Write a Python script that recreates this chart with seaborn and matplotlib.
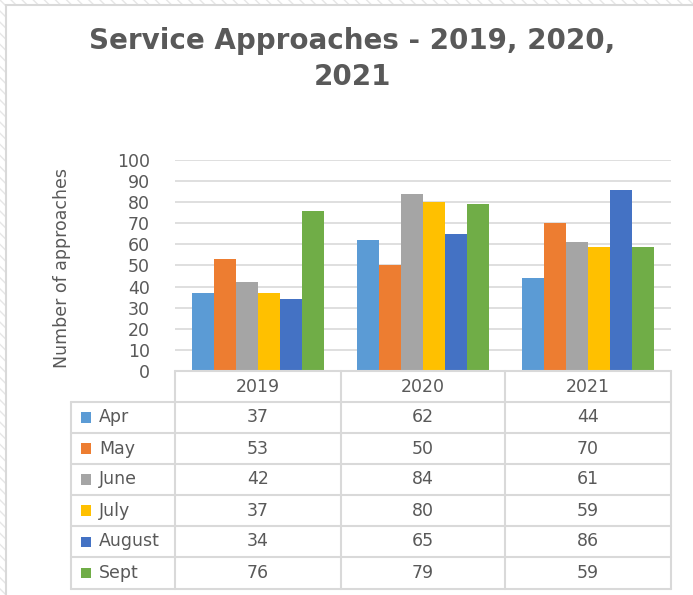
import pandas as pd
import matplotlib
matplotlib.use("Agg")
import matplotlib.pyplot as plt
from matplotlib.patches import Rectangle
from matplotlib.lines import Line2D
import seaborn as sns

# =========================
# Data
# =========================
years = ["2019", "2020", "2021"]
months = ["Apr", "May", "June", "July", "August", "Sept"]
apr = [37, 62, 44]
may = [53, 50, 70]
june = [42, 84, 61]
july = [37, 80, 59]
august = [34, 65, 86]
sept = [76, 79, 59]
y_ticks = list(range(0, 101, 10))

colors = ["#5B9BD5", "#ED7D31", "#A5A5A5", "#FFC000", "#4472C4", "#70AD47"]
series = [apr, may, june, july, august, sept]

rows = []
for m, vals in zip(months, series):
    for y, v in zip(years, vals):
        rows.append({"year": y, "month": m, "value": v})
df = pd.DataFrame(rows)

# =========================
# Figure
# =========================
W, H = 693, 595
sns.set_style("white")
plt.rcParams["font.family"] = ["DejaVu Sans"]
txt = "#595959"
grid = "#D9D9D9"
fs = 12.5

fig = plt.figure(figsize=(W / 100, H / 100), dpi=100)

def fx(x):
    return x / W

def fy(y):
    return 1 - y / H

# hatched screenshot background + chart border
fig.patches.append(Rectangle((0, 0), 1, 1, transform=fig.transFigure,
                             facecolor="white", edgecolor="#E6E6E6", hatch="\\\\\\", lw=0, zorder=-3))
fig.patches.append(Rectangle((fx(6), fy(700)), 1, fy(5) - fy(700), transform=fig.transFigure,
                             facecolor="white", edgecolor=grid, lw=1.5, zorder=-2))

ax = fig.add_axes([fx(175), fy(371), fx(671) - fx(175), fy(160) - fy(371)])
sns.barplot(data=df, x="year", y="value", hue="month", hue_order=months,
            palette=colors, saturation=1, width=0.8, linewidth=0, ax=ax, legend=False)
ax.set_ylim(0, 100)
ax.set_xlim(-0.5, 2.5)
ax.set_yticks(y_ticks)
ax.set_xticks([])
ax.set_xlabel("")
ax.set_ylabel("")
ax.tick_params(axis="y", length=0, pad=18, labelsize=fs, labelcolor=txt)
for s in ax.spines.values():
    s.set_visible(False)
for t in y_ticks[1:]:
    ax.axhline(t, color=grid, lw=1.2, zorder=0)
ax.set_axisbelow(True)
ax.patch.set_alpha(0)

fig.text(fx(62), fy(268), "Number of approaches", rotation=90, ha="center", va="center",
         fontsize=12.5, color=txt)
fig.text(fx(352), fy(41), "Service Approaches - 2019, 2020,", ha="center", va="center",
         fontsize=20, fontweight="bold", color=txt)
fig.text(fx(352), fy(77), "2021", ha="center", va="center",
         fontsize=20, fontweight="bold", color=txt)

# =========================
# Data table
# =========================
col_x = [175, 341, 505, 671]
row_y = [371, 402, 433, 464, 495, 526, 557, 589]
left_x = 71

for i, y in enumerate(row_y):
    x0 = col_x[0] if i == 0 else left_x
    fig.add_artist(Line2D([fx(x0), fx(col_x[-1])], [fy(y), fy(y)], color=grid, lw=1.5))
for x in col_x:
    fig.add_artist(Line2D([fx(x), fx(x)], [fy(row_y[0]), fy(row_y[-1])], color=grid, lw=1.5))
fig.add_artist(Line2D([fx(left_x), fx(left_x)], [fy(row_y[1]), fy(row_y[-1])], color=grid, lw=1.5))

for j, yr in enumerate(years):
    cx = (col_x[j] + col_x[j + 1]) / 2
    fig.text(fx(cx), fy((row_y[0] + row_y[1]) / 2), yr, ha="center", va="center",
             fontsize=fs, color=txt)

for i, (m, vals, c) in enumerate(zip(months, series, colors)):
    cy = (row_y[i + 1] + row_y[i + 2]) / 2
    fig.patches.append(Rectangle((fx(81), fy(cy + 5)), fx(10), fy(0) - fy(10),
                                 transform=fig.transFigure, facecolor=c, lw=0))
    fig.text(fx(99), fy(cy), m, ha="left", va="center", fontsize=fs, color=txt)
    for j, v in enumerate(vals):
        cx = (col_x[j] + col_x[j + 1]) / 2
        fig.text(fx(cx), fy(cy), str(v), ha="center", va="center", fontsize=fs, color=txt)

fig.savefig("out.png", dpi=100)
